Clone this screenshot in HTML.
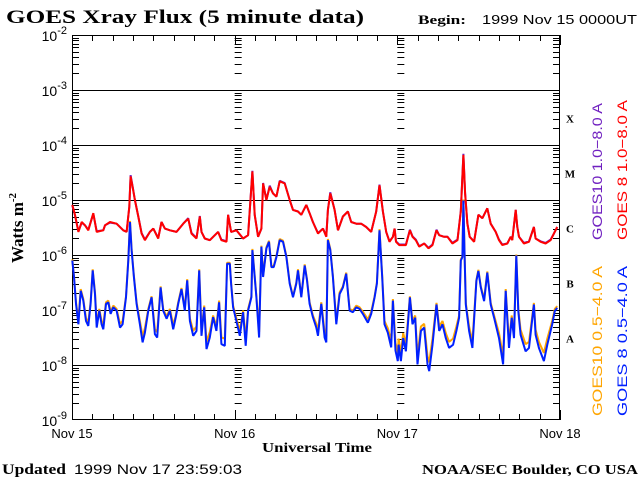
<!DOCTYPE html>
<html><head><meta charset="utf-8"><style>
body{margin:0;background:#fff;width:640px;height:480px;overflow:hidden}
svg{display:block}
.s{font-family:"Liberation Sans",sans-serif}
.r{font-family:"Liberation Serif",serif;font-weight:bold}
</style></head><body>
<svg id="c" width="640" height="480" xmlns="http://www.w3.org/2000/svg">
<text x="6" y="23" class="r" font-size="19" textLength="358" lengthAdjust="spacingAndGlyphs">GOES Xray Flux (5 minute data)</text>
<text x="418" y="24" class="r" font-size="13" textLength="48" lengthAdjust="spacingAndGlyphs">Begin:</text>
<text x="482" y="24" class="s" font-size="13" textLength="155" lengthAdjust="spacingAndGlyphs">1999 Nov 15 0000UT</text>
<text transform="translate(23,228) rotate(-90)" text-anchor="middle" class="r" font-size="17">Watts m<tspan dy="-7" font-size="11">-2</tspan></text>
<text x="262" y="452" class="r" font-size="14" textLength="110" lengthAdjust="spacingAndGlyphs">Universal Time</text>
<text x="2" y="474" class="r" font-size="15" textLength="64" lengthAdjust="spacingAndGlyphs">Updated</text>
<text x="74" y="474" class="s" font-size="14" textLength="168" lengthAdjust="spacingAndGlyphs">1999 Nov 17 23:59:03</text>
<text x="422" y="474" class="r" font-size="14" textLength="216" lengthAdjust="spacingAndGlyphs">NOAA/SEC Boulder, CO USA</text>
<text transform="translate(602,240) rotate(-90)" class="s" font-size="14" fill="#7020c0" textLength="137" lengthAdjust="spacingAndGlyphs">GOES10 1.0−8.0 A</text>
<text transform="translate(627,240) rotate(-90)" class="s" font-size="14" fill="#ff0000" textLength="140" lengthAdjust="spacingAndGlyphs">GOES 8 1.0−8.0 A</text>
<text transform="translate(602,416) rotate(-90)" class="s" font-size="14" fill="#ffa500" textLength="150" lengthAdjust="spacingAndGlyphs">GOES10 0.5−4.0 A</text>
<text transform="translate(627,416) rotate(-90)" class="s" font-size="14" fill="#0020ff" textLength="150" lengthAdjust="spacingAndGlyphs">GOES 8 0.5−4.0 A</text>
<g id="axes"></g>
<g id="series"></g>
</svg>
<script>
const dayLabels=["Nov 15","Nov 16","Nov 17","Nov 18"];
const decadeExps=[-2,-3,-4,-5,-6,-7,-8,-9];
const flareClasses=["X","M","C","B","A"];
const redH=[0.05,0.45,0.94,1.43,1.92,2.41,3.15,3.64,4.62,4.87,5.6,6.58,7.57,8.06,8.45,8.65,8.94,9.28,9.78,10.27,10.76,11.49,11.99,12.72,13.21,13.7,14.44,15.42,16.4,17.14,17.63,18.37,18.86,19.1,19.6,20.33,21.56,22.05,22.79,23.03,23.47,24.26,25.24,25.98,26.62,26.96,27.45,27.94,28.19,28.68,29.17,29.66,30.15,30.64,31.38,32.12,32.61,33.34,33.83,34.57,35.06,35.55,36.29,37.03,37.52,37.76,38.11,38.74,39.24,39.97,40.71,41.2,41.94,42.67,43.41,44.15,44.88,45.37,45.87,46.36,46.85,47.34,47.59,47.8,48.28,49.26,49.85,50.24,50.73,51.23,51.96,52.6,53.19,53.78,54.17,54.9,55.4,56.13,56.87,57.36,57.75,58.0,58.34,58.68,59.32,59.96,60.55,61.28,61.78,62.51,63.0,63.49,64.23,64.72,64.96,65.46,65.7,65.95,66.68,67.42,68.15,68.4,69.14,69.88,70.61,71.1,71.58];
const redLog=[-5.09,-5.27,-5.58,-5.40,-5.46,-5.55,-5.24,-5.58,-5.55,-5.46,-5.40,-5.43,-5.55,-5.58,-5.12,-4.57,-4.76,-5.0,-5.30,-5.61,-5.73,-5.58,-5.52,-5.70,-5.40,-5.52,-5.55,-5.58,-5.43,-5.34,-5.61,-5.70,-5.30,-5.58,-5.70,-5.73,-5.58,-5.73,-5.76,-5.27,-5.58,-5.55,-5.70,-5.64,-4.48,-5.27,-5.67,-5.52,-4.70,-5.0,-4.76,-4.88,-4.94,-4.66,-4.70,-5.0,-5.18,-5.21,-5.27,-5.09,-5.24,-5.40,-5.61,-5.52,-5.67,-5.18,-4.88,-5.18,-5.55,-5.30,-5.21,-5.40,-5.43,-5.43,-5.49,-5.58,-5.21,-4.73,-5.21,-5.58,-5.76,-5.67,-5.52,-5.76,-5.82,-5.82,-5.55,-5.67,-5.73,-5.85,-5.79,-5.88,-5.82,-5.55,-5.64,-5.67,-5.67,-5.79,-5.73,-5.21,-4.18,-4.88,-5.43,-5.67,-5.76,-5.27,-5.33,-5.15,-5.43,-5.58,-5.73,-5.82,-5.79,-5.67,-5.73,-5.18,-5.49,-5.67,-5.79,-5.76,-5.49,-5.70,-5.76,-5.79,-5.73,-5.61,-5.49];
const purpleLog=[-5.10,-5.28,-5.57,-5.41,-5.46,-5.54,-5.25,-5.57,-5.55,-5.46,-5.41,-5.43,-5.55,-5.58,-5.13,-4.55,-4.75,-5.0,-5.30,-5.60,-5.72,-5.58,-5.52,-5.69,-5.40,-5.52,-5.55,-5.58,-5.43,-5.33,-5.60,-5.69,-5.29,-5.58,-5.70,-5.73,-5.58,-5.72,-5.75,-5.27,-5.58,-5.55,-5.70,-5.64,-4.47,-5.27,-5.67,-5.52,-4.69,-5.0,-4.74,-4.88,-4.94,-4.65,-4.69,-5.0,-5.18,-5.21,-5.27,-5.09,-5.24,-5.40,-5.60,-5.52,-5.66,-5.18,-4.86,-5.18,-5.55,-5.30,-5.21,-5.40,-5.43,-5.43,-5.49,-5.58,-5.21,-4.72,-5.21,-5.58,-5.75,-5.67,-5.52,-5.75,-5.81,-5.81,-5.54,-5.66,-5.72,-5.84,-5.79,-5.87,-5.81,-5.54,-5.64,-5.67,-5.67,-5.78,-5.72,-5.20,-4.16,-4.87,-5.43,-5.67,-5.75,-5.27,-5.33,-5.15,-5.43,-5.58,-5.72,-5.81,-5.79,-5.67,-5.72,-5.18,-5.49,-5.67,-5.78,-5.75,-5.49,-5.70,-5.75,-5.78,-5.72,-5.61,-5.49];
const blueH=[0.05,0.30,0.59,0.94,1.28,1.67,2.07,2.41,2.75,3.05,3.39,3.64,4.03,4.37,4.62,5.01,5.36,5.7,6.09,6.58,7.08,7.47,7.96,8.30,8.55,8.79,9.14,9.53,10.02,10.41,10.76,11.25,11.74,12.23,12.57,13.07,13.46,13.95,14.44,14.93,15.32,15.67,16.16,16.65,16.99,17.39,17.88,18.37,18.76,19.1,19.5,19.84,20.33,20.82,21.31,21.71,22.05,22.54,22.89,23.28,23.47,23.77,24.26,24.75,25.24,25.63,25.98,26.47,26.62,26.96,27.2,27.6,27.94,28.19,28.68,29.07,29.42,29.76,30.15,30.64,31.13,31.63,32.12,32.61,33.1,33.34,33.83,34.33,34.67,35.06,35.55,36.04,36.29,36.78,37.27,37.52,37.76,38.11,38.5,38.99,39.48,39.97,40.46,40.95,41.45,41.94,42.43,42.92,43.65,44.15,44.64,44.98,45.37,45.77,46.11,46.6,47.09,47.34,47.73,48.07,48.18,48.53,48.87,49.26,49.85,50.24,50.64,50.98,51.47,51.96,52.45,52.7,53.19,53.78,54.17,54.66,55.15,55.64,56.23,56.72,57.11,57.36,57.6,57.75,57.9,58.1,58.59,59.08,59.66,59.96,60.31,60.8,61.28,61.78,62.27,63.0,63.6,63.99,64.47,64.87,65.21,65.55,65.85,66.19,66.93,67.42,68.15,68.4,68.89,69.63,70.12,70.85,71.24,71.58];
const blueLog=[-6.10,-6.40,-6.89,-7.26,-6.65,-6.83,-7.20,-7.29,-6.89,-6.28,-6.71,-7.32,-7.01,-7.26,-7.35,-6.89,-6.86,-7.07,-6.95,-7.01,-7.32,-7.26,-6.77,-6.10,-5.40,-5.91,-6.40,-6.89,-7.26,-7.59,-7.41,-7.01,-6.77,-7.44,-7.50,-6.59,-7.01,-7.16,-7.01,-7.35,-7.13,-6.89,-6.62,-7.01,-6.46,-7.20,-7.47,-7.38,-6.28,-7.47,-6.95,-7.71,-7.50,-7.13,-7.38,-6.86,-7.62,-7.65,-6.16,-6.16,-6.52,-6.95,-7.20,-7.47,-7.04,-7.65,-7.01,-6.77,-5.91,-6.40,-6.77,-7.50,-5.85,-6.40,-5.88,-5.76,-6.22,-6.22,-6.04,-5.73,-5.76,-6.04,-6.52,-6.77,-6.52,-6.28,-6.77,-6.19,-6.46,-6.89,-7.13,-7.32,-7.47,-6.89,-7.50,-7.59,-5.73,-5.91,-6.40,-7.26,-6.71,-6.59,-6.34,-7.01,-7.04,-6.95,-6.98,-7.07,-7.23,-7.07,-6.77,-6.52,-5.55,-6.40,-7.26,-7.41,-7.68,-6.83,-7.74,-7.93,-7.63,-7.93,-7.51,-7.75,-6.77,-7.26,-7.14,-7.99,-7.38,-7.32,-7.99,-8.11,-7.63,-6.90,-7.38,-7.26,-7.51,-7.69,-7.63,-7.38,-7.14,-6.10,-6.04,-5.01,-5.86,-6.90,-7.38,-7.69,-6.47,-6.29,-6.59,-6.84,-6.32,-6.90,-7.14,-7.51,-7.99,-6.65,-7.69,-7.14,-7.51,-6.01,-7.02,-7.45,-7.75,-7.69,-6.90,-7.45,-7.69,-7.93,-7.63,-7.26,-7.02,-6.96];
const orangeLog=[-6.08,-6.38,-6.86,-7.20,-6.62,-6.80,-7.15,-7.22,-6.86,-6.26,-6.68,-7.25,-6.98,-7.20,-7.27,-6.86,-6.83,-7.03,-6.92,-6.98,-7.25,-7.20,-6.75,-6.08,-5.38,-5.89,-6.38,-6.86,-7.20,-7.48,-7.33,-6.98,-6.75,-7.35,-7.40,-6.57,-6.98,-7.12,-6.98,-7.27,-7.10,-6.86,-6.60,-6.98,-6.44,-7.15,-7.38,-7.30,-6.26,-7.38,-6.92,-7.58,-7.40,-7.10,-7.30,-6.83,-7.50,-7.52,-6.14,-6.14,-6.50,-6.92,-7.15,-7.38,-7.01,-7.52,-6.98,-6.75,-5.89,-6.38,-6.75,-7.40,-5.83,-6.38,-5.86,-5.74,-6.20,-6.20,-6.02,-5.71,-5.74,-6.02,-6.50,-6.75,-6.50,-6.26,-6.75,-6.17,-6.44,-6.86,-7.10,-7.25,-7.38,-6.86,-7.40,-7.48,-5.71,-5.89,-6.38,-7.20,-6.68,-6.57,-6.32,-6.98,-7.01,-6.92,-6.95,-7.03,-7.17,-7.03,-6.75,-6.50,-5.53,-6.38,-7.20,-7.33,-7.56,-6.80,-7.60,-7.78,-7.52,-7.78,-7.42,-7.62,-6.75,-7.20,-7.10,-7.84,-7.30,-7.25,-7.84,-7.95,-7.52,-6.87,-7.30,-7.20,-7.42,-7.58,-7.52,-7.30,-7.10,-6.08,-6.02,-4.99,-5.84,-6.87,-7.30,-7.58,-6.45,-6.27,-6.57,-6.80,-6.30,-6.87,-7.10,-7.42,-7.84,-6.62,-7.58,-7.10,-7.42,-5.99,-6.98,-7.36,-7.62,-7.58,-6.87,-7.36,-7.58,-7.78,-7.52,-7.20,-6.98,-6.93];

const NS="http://www.w3.org/2000/svg";
const L=72,R=560,T=35,B=420;
function xs(h){return L+(R-L)*h/72;}
function ys(lg){return T+(-2-lg)*(B-T)/7;}
const ax=document.getElementById('axes');
function ln(x1,y1,x2,y2,name){const e=document.createElementNS(NS,'line');e.setAttribute('x1',x1);e.setAttribute('y1',y1);e.setAttribute('x2',x2);e.setAttribute('y2',y2);e.setAttribute('stroke','#000');e.setAttribute('stroke-width','1');


ax.appendChild(e);return e;}
function tx(x,y,s,anchor,name,size){const e=document.createElementNS(NS,'text');e.setAttribute('x',x);e.setAttribute('y',y);e.setAttribute('text-anchor',anchor);e.setAttribute('font-size',size);e.setAttribute('class','s');e.innerHTML=s;


ax.appendChild(e);return e;}
const fr=document.createElementNS(NS,'rect');fr.setAttribute('x',L+0.5);fr.setAttribute('y',T+0.5);fr.setAttribute('width',R-L-1);fr.setAttribute('height',B-T-1);fr.setAttribute('fill','none');fr.setAttribute('stroke','#000');


ax.appendChild(fr);
decadeExps.forEach((d,i)=>{
  const y=Math.round(ys(d))+0.5;
  if(d<-2&&d>-9) ln(L,y,R,y,'gridline-1e'+d);
  tx(L-5,ys(d)+6,'10<tspan dy="-7" font-size="11">'+d+'</tspan>','end','y-tick-label',14);
  if(d>-9){for(let k=2;k<10;k++){const yy=Math.round(ys(d-1+Math.log10(k)))+0.5;
    const len=7;
    ln(L,yy,L+len,yy,'y-minor-tick');ln(R-len,yy,R,yy,'y-minor-tick-right');
    for(let dd=1;dd<3;dd++){const xd=xs(dd*24);ln(xd,yy,xd+len,yy,'day-minor-tick');}
  }}
});
flareClasses.forEach((c,i)=>{const e=tx(570,ys(-3.5-i)+5,c,'middle','flare-class-'+c,11);e.setAttribute('class','r');});
for(let h=0;h<=72;h+=3){const x=Math.round(xs(h))+0.5;const len=h%24===0?10:6;ln(x,B,x,B-len,'x-tick');ln(x,T,x,T+len,'x-tick-top');}
dayLabels.forEach((s,i)=>tx(xs(i*24),438,s,'middle','x-tick-label',13));
const sg=document.getElementById('series');
function path(H,V,color,name){let d='';for(let i=0;i<H.length;i++){const x=xs(H[i]).toFixed(1),y=ys(V[i]).toFixed(1);
 d+=(i===0?'M':'L')+x+' '+y;}
 const p=document.createElementNS(NS,'path');p.setAttribute('d',d);p.setAttribute('fill','none');p.setAttribute('stroke',color);p.setAttribute('stroke-width','2');p.setAttribute('stroke-linejoin','bevel');
 
 
 sg.appendChild(p);}
path(redH,purpleLog,'#7020c0','series-goes10-long');
path(redH,redLog,'#ff0000','series-goes8-long');
path(blueH,orangeLog,'#ffa500','series-goes10-short');
path(blueH,blueLog,'#0020ff','series-goes8-short');
</script>
</body></html>
